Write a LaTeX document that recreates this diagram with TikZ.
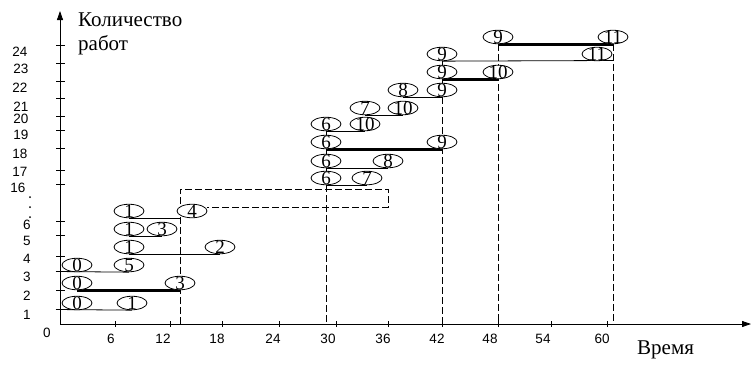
\documentclass[tikz,border=0pt]{standalone}
\usepackage{fontspec}
\setmainfont{Liberation Serif}
\newfontfamily\axfont{Liberation Sans}
\usetikzlibrary{shapes.geometric,arrows.meta}
\pgfdeclarelayer{bg}
\pgfsetlayers{bg,main}
\begin{document}
\begin{tikzpicture}[x=1pt,y=-1pt,
  wk/.style={ellipse, draw, fill=white, line width=0.8pt, minimum width=30pt, minimum height=13.5pt, inner sep=0pt,
    label={[font=\fontsize{19}{19}\selectfont, inner sep=0pt, text height=12.6pt, text depth=0pt]center:#1}},
  ln/.style={line width=0.8pt},
  thk/.style={line width=3pt, yshift=-1.5pt},
  dsh/.style={line width=0.8pt, dash pattern=on 7pt off 3pt},
  tl/.style={font=\axfont\fontsize{13.5}{13.5}\selectfont, inner sep=0pt, text height=9.6pt, text depth=0pt},
  ttl/.style={font=\fontsize{21}{21}\selectfont, inner sep=0pt, anchor=base west},
  arr/.style={line width=0.8pt, -{Triangle[length=9pt,width=6pt]}}]
\useasboundingbox (0,0) rectangle (752,364);
% axes
\coordinate (O) at (60,324);
\coordinate (ytop) at (60,11);
\coordinate (xend) at (751,324);
\draw[arr] (O) -- (ytop);
\draw[arr] (O) -- (xend);
\foreach \y in {45,63,81,98,116,130,148,170,184,221,235,256,271,290,309}
  \draw[ln] (56,\y) -- (65,\y);
\foreach \x in {115,170,222,279,336,388,442,498,551,607}
  \draw[ln] (\x,321) -- (\x,327);
% y labels
\foreach \t/\x/\y [count=\i] in {24/20/52,23/21/69,22/20/88,21/21/106.5,20/21/118.5,19/21/135,18/20/154,17/20/172,16/18/188,6/27/225,5/27/241,4/27/259,3/27/277,2/27/296,1/27/315,0/47/333}
  \node[tl] (yl\i) at (\x,\y) {\t};
\foreach \y in {197,207,217} \fill (30,\y) circle (1pt);
% x labels
\foreach \t/\x [count=\i] in {6/111,12/163,18/217,24/273,30/328,36/383,42/437,48/490,54/543,60/602}
  \node[tl] (xl\i) at (\x,339) {\t};
% titles
\node[ttl] (ttl1) at (78,27) {Количество};
\node[ttl] (ttl2) at (78,50) {работ};
\node[ttl] (ttl3) at (637,354) {Время};
% lower ellipses
\node[wk=0] (A0a) at (77,303) {};
\node[wk=1] (A1a) at (132,303) {};
\node[wk=0] (A0b) at (77,283) {};
\node[wk=3] (A3) at (180,283) {};
\node[wk=0] (A0c) at (77,265) {};
\node[wk=5] (A5) at (129,265) {};
\node[wk=1] (B1a) at (129,247) {};
\node[wk=2] (B2) at (220,247) {};
\node[wk=1] (B1b) at (129,229) {};
\node[wk=3] (B3) at (162,229) {};
\node[wk=1] (B1c) at (129,211) {};
\node[wk=4] (B4) at (192,211) {};
% upper ellipses
\node[wk=6] (C6a) at (326,178) {};
\node[wk=7] (C7) at (367,178) {};
\node[wk=6] (C6b) at (326,161) {};
\node[wk=8] (C8) at (388,161) {};
\node[wk=6] (C6c) at (326,142) {};
\node[wk=9] (C9) at (442,142) {};
\node[wk=6] (C6d) at (326,124) {};
\node[wk=10] (C10) at (365,124) {};
\node[wk=7] (D7) at (365,108) {};
\node[wk=10] (D10) at (403,108) {};
\node[wk=8] (D8) at (403,90) {};
\node[wk=9] (D9) at (442,90) {};
\node[wk=9] (E9a) at (442,72) {};
\node[wk=10] (E10) at (498,72) {};
\node[wk=9] (E9b) at (442,54) {};
\node[wk=11] (E11) at (597,54) {};
\node[wk=9] (F9) at (498,37) {};
\node[wk=11] (F11) at (613,37) {};
% helper coordinates
\coordinate (r1) at (56,309.5);
\coordinate (r3) at (56,271.5);
\coordinate (b180) at (180,324);
\coordinate (b326) at (326,324);
\coordinate (b442) at (442,324);
\coordinate (b498) at (498,324);
\coordinate (b613) at (613,324);
\coordinate (d1) at (180,189);
\coordinate (d2) at (388,189);
\coordinate (d3) at (388,207);
\coordinate (d4) at (207,207);
\coordinate (e1) at (613,60.5);
\begin{pgfonlayer}{bg}
  % lower rows
  \draw[ln] (r1) -- (A1a.south);
  \draw[thk] (A0b.south) -- (A3.south);
  \draw[ln] (r3) -- (A5.south);
  \draw[ln] (B1a.south) -- (B2.south);
  \draw[ln] (B1b.south) -- (B3.south);
  \draw[ln] (B1c.south) -- (B1c.south -| d1);
  % dashed frame
  \draw[dsh] (b180) -- (d1) -- (d2) -- (d3) -- (d4);
  % upper rows
  \draw[ln] (C6d.center) -- (C6a.center);
  \draw[ln] (C6a.south) -- (C7.south);
  \draw[ln] (C6b.south) -- (C8.south);
  \draw[thk] (C6c.south) -- (C9.south);
  \draw[ln] (C6d.south) -- (C10.south);
  \draw[ln] (D7.south) -- (D10.south);
  \draw[ln] (D8.south) -- (D9.south);
  \draw[ln] (E9b.center) -- (D9.center);
  \draw[thk] (E9a.south) -- (E10.south);
  \draw[ln] (E9b.south) -- (e1);
  \draw[thk] (F9.south) -- (F11.south);
  % dashed verticals
  \draw[dsh] (C6a.south) -- (b326);
  \draw[dsh] (D9.south) -- (b442);
  \draw[dsh] (F9.south) -- (b498);
  \draw[dsh] (F11.south) -- (b613);
\end{pgfonlayer}
\end{tikzpicture}
\end{document}
